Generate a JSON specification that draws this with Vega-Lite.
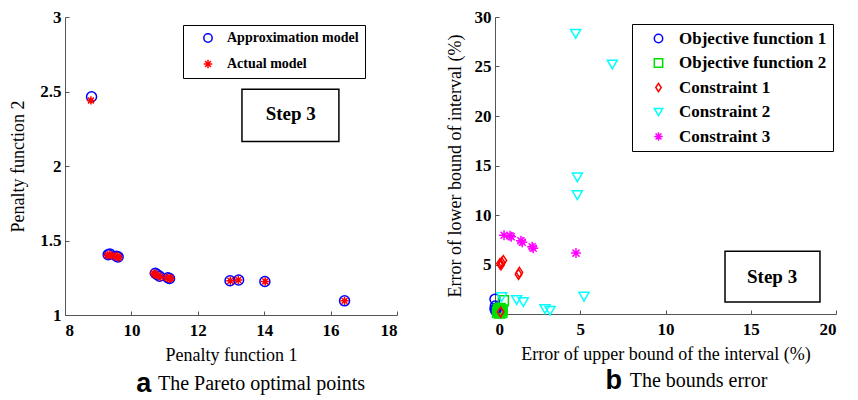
{
  "$schema": "https://vega.github.io/schema/vega-lite/v6.json",
  "background": "white",
  "padding": {"left": 9, "top": 8, "right": 5, "bottom": 5},
  "bounds": "flush",
  "spacing": 98,
  "config": {
    "view": {"stroke": null},
    "font": "Liberation Serif, Times New Roman, Times, DejaVu Serif, serif",
    "axis": {
      "grid": false,
      "domainColor": "#555555",
      "domainWidth": 1,
      "tickColor": "#555555",
      "tickSize": -4,
      "labelFont": "Liberation Serif, Times New Roman, Times, DejaVu Serif, serif",
      "labelFontWeight": "bold",
      "labelFontSize": 17,
      "labelColor": "black",
      "titleFont": "Liberation Serif, Times New Roman, Times, DejaVu Serif, serif",
      "titleFontWeight": "normal",
      "titleFontSize": 18,
      "titleColor": "black"
    },
    "legend": {
      "orient": "none",
      "title": null,
      "strokeColor": "black",
      "fillColor": "white",
      "padding": 6,
      "symbolOffset": 12,
      "labelOffset": 12,
      "rowPadding": 6.5,
      "labelFont": "Liberation Serif, Times New Roman, Times, DejaVu Serif, serif",
      "labelFontWeight": "bold",
      "labelFontSize": 17,
      "labelColor": "black",
      "symbolSize": 70,
      "symbolStrokeWidth": 1.5,
      "symbolFillColor": "transparent"
    }
  },
  "datasets": {
    "pareto": [
      {"series": "Approximation model", "f1": 8.80, "f2": 2.465},
      {"series": "Approximation model", "f1": 9.30, "f2": 1.405},
      {"series": "Approximation model", "f1": 9.35, "f2": 1.41},
      {"series": "Approximation model", "f1": 9.55, "f2": 1.395},
      {"series": "Approximation model", "f1": 9.60, "f2": 1.39},
      {"series": "Approximation model", "f1": 10.72, "f2": 1.28},
      {"series": "Approximation model", "f1": 10.78, "f2": 1.27},
      {"series": "Approximation model", "f1": 10.85, "f2": 1.26},
      {"series": "Approximation model", "f1": 11.10, "f2": 1.25},
      {"series": "Approximation model", "f1": 11.15, "f2": 1.245},
      {"series": "Approximation model", "f1": 12.97, "f2": 1.23},
      {"series": "Approximation model", "f1": 13.23, "f2": 1.235},
      {"series": "Approximation model", "f1": 14.02, "f2": 1.225},
      {"series": "Approximation model", "f1": 16.42, "f2": 1.095},
      {"series": "Actual model", "f1": 8.78, "f2": 2.44},
      {"series": "Actual model", "f1": 9.28, "f2": 1.40},
      {"series": "Actual model", "f1": 9.34, "f2": 1.405},
      {"series": "Actual model", "f1": 9.40, "f2": 1.40},
      {"series": "Actual model", "f1": 9.53, "f2": 1.39},
      {"series": "Actual model", "f1": 9.58, "f2": 1.395},
      {"series": "Actual model", "f1": 9.62, "f2": 1.385},
      {"series": "Actual model", "f1": 10.68, "f2": 1.28},
      {"series": "Actual model", "f1": 10.72, "f2": 1.27},
      {"series": "Actual model", "f1": 10.80, "f2": 1.265},
      {"series": "Actual model", "f1": 10.87, "f2": 1.255},
      {"series": "Actual model", "f1": 11.08, "f2": 1.25},
      {"series": "Actual model", "f1": 11.14, "f2": 1.243},
      {"series": "Actual model", "f1": 11.18, "f2": 1.247},
      {"series": "Actual model", "f1": 12.98, "f2": 1.23},
      {"series": "Actual model", "f1": 13.22, "f2": 1.235},
      {"series": "Actual model", "f1": 14.03, "f2": 1.225},
      {"series": "Actual model", "f1": 16.42, "f2": 1.095}
    ],
    "errors": [
      {"series": "Objective function 1", "eu": 0.0, "el": 1.5},
      {"series": "Objective function 1", "eu": 0.0, "el": 0.5},
      {"series": "Objective function 1", "eu": 0.05, "el": 0.3},
      {"series": "Objective function 1", "eu": 0.1, "el": 0.6},
      {"series": "Objective function 1", "eu": 0.02, "el": 0.8},
      {"series": "Objective function 2", "eu": 0.49, "el": 1.34},
      {"series": "Objective function 2", "eu": 0.15, "el": 0.15},
      {"series": "Objective function 2", "eu": 0.25, "el": 0.25},
      {"series": "Objective function 2", "eu": 0.35, "el": 0.35},
      {"series": "Objective function 2", "eu": 0.2, "el": 0.45},
      {"series": "Objective function 2", "eu": 0.4, "el": 0.15},
      {"series": "Objective function 2", "eu": 0.3, "el": 0.55},
      {"series": "Objective function 2", "eu": 0.28, "el": 0.1},
      {"series": "Objective function 2", "eu": 0.42, "el": 0.4},
      {"series": "Constraint 1", "eu": 0.29, "el": 5.1},
      {"series": "Constraint 1", "eu": 0.39, "el": 5.2},
      {"series": "Constraint 1", "eu": 0.49, "el": 5.4},
      {"series": "Constraint 1", "eu": 0.35, "el": 4.95},
      {"series": "Constraint 1", "eu": 1.38, "el": 4.0},
      {"series": "Constraint 1", "eu": 1.43, "el": 4.2},
      {"series": "Constraint 1", "eu": 0.33, "el": 0.2},
      {"series": "Constraint 2", "eu": 4.73, "el": 28.3},
      {"series": "Constraint 2", "eu": 6.88, "el": 25.2},
      {"series": "Constraint 2", "eu": 4.83, "el": 13.8},
      {"series": "Constraint 2", "eu": 4.83, "el": 12.0},
      {"series": "Constraint 2", "eu": 5.22, "el": 1.75},
      {"series": "Constraint 2", "eu": 0.39, "el": 1.7},
      {"series": "Constraint 2", "eu": 1.27, "el": 1.4},
      {"series": "Constraint 2", "eu": 1.66, "el": 1.2},
      {"series": "Constraint 2", "eu": 2.93, "el": 0.5},
      {"series": "Constraint 2", "eu": 3.23, "el": 0.33},
      {"series": "Constraint 3", "eu": 0.53, "el": 7.95},
      {"series": "Constraint 3", "eu": 0.88, "el": 7.9},
      {"series": "Constraint 3", "eu": 0.95, "el": 7.8},
      {"series": "Constraint 3", "eu": 1.52, "el": 7.4},
      {"series": "Constraint 3", "eu": 1.6, "el": 7.25},
      {"series": "Constraint 3", "eu": 2.18, "el": 6.8},
      {"series": "Constraint 3", "eu": 2.24, "el": 6.65},
      {"series": "Constraint 3", "eu": 4.75, "el": 6.15}
    ]
  },
  "resolve": {"scale": {"color": "independent", "shape": "independent"}, "legend": {"color": "independent", "shape": "independent"}},
  "hconcat": [
    {
      "width": 332,
      "height": 298,
      "layer": [
        {
          "data": {"values": [{"x1": 13.33, "x2": 16.25, "y1": 2.165, "y2": 2.515}]},
          "mark": {"type": "rect", "fill": "white", "stroke": "black", "strokeWidth": 1.5},
          "encoding": {
            "x": {"field": "x1", "type": "quantitative", "scale": {"domain": [8, 18], "nice": false, "zero": false}},
            "x2": {"field": "x2"},
            "y": {"field": "y1", "type": "quantitative", "scale": {"domain": [1, 3], "nice": false, "zero": false}},
            "y2": {"field": "y2"}
          }
        },
        {
          "data": {"values": [{"tx": 14.8, "ty": 2.35, "label": "Step 3"}]},
          "mark": {"type": "text", "font": "Liberation Serif, Times New Roman, Times, DejaVu Serif, serif", "fontWeight": "bold", "fontSize": 19, "color": "black"},
          "encoding": {
            "x": {"field": "tx", "type": "quantitative"},
            "y": {"field": "ty", "type": "quantitative"},
            "text": {"field": "label"}
          }
        },
        {
          "data": {"name": "pareto"},
          "mark": {"type": "point", "filled": false, "strokeWidth": 1.5, "opacity": 1},
          "encoding": {
            "x": {"field": "f1", "type": "quantitative", "title": "Penalty function 1",
                  "axis": {"values": [8, 10, 12, 14, 16, 18], "labelPadding": 11, "titlePadding": 8}},
            "y": {"field": "f2", "type": "quantitative", "title": "Penalty function 2",
                  "axis": {"values": [1, 1.5, 2, 2.5, 3], "format": "~g", "labelPadding": 8, "titlePadding": 12}},
            "color": {"field": "series", "type": "nominal", "sort": null,
                      "scale": {"domain": ["Approximation model", "Actual model"], "range": ["#0000ff", "#ff0000"]},
                      "legend": {"legendX": 118, "legendY": 8, "labelFontSize": 14, "rowPadding": 10}},
            "shape": {"field": "series", "type": "nominal", "sort": null,
                      "scale": {"domain": ["Approximation model", "Actual model"], "range": ["circle", "M-1,0L1,0M0,-1L0,1M-0.7,-0.7L0.7,0.7M-0.7,0.7L0.7,-0.7"]},
                      "legend": {"legendX": 118, "legendY": 8, "labelFontSize": 14, "rowPadding": 10}},
            "size": {"condition": {"test": "datum.series === 'Approximation model'", "value": 100}, "value": 70}
          }
        },
        {
          "data": {"values": [{"tx": 10.6, "ty": 0.535, "label": "a"}]},
          "mark": {"type": "text", "font": "Liberation Sans, Arial, sans-serif", "fontWeight": "bold", "fontSize": 27, "align": "right", "baseline": "middle", "color": "black"},
          "encoding": {
            "x": {"field": "tx", "type": "quantitative"},
            "y": {"field": "ty", "type": "quantitative"},
            "text": {"field": "label"}
          }
        },
        {
          "data": {"values": [{"tx": 10.8, "ty": 0.535, "label": "The Pareto optimal points"}]},
          "mark": {"type": "text", "font": "Liberation Serif, Times New Roman, Times, DejaVu Serif, serif", "fontSize": 20, "align": "left", "baseline": "middle", "color": "black"},
          "encoding": {
            "x": {"field": "tx", "type": "quantitative"},
            "y": {"field": "ty", "type": "quantitative"},
            "text": {"field": "label"}
          }
        }
      ]
    },
    {
      "width": 341,
      "height": 297,
      "layer": [
        {
          "data": {"values": [{"x1": 13.49, "x2": 19.06, "y1": 1.21, "y2": 6.34}]},
          "mark": {"type": "rect", "fill": "white", "stroke": "black", "strokeWidth": 1.5},
          "encoding": {
            "x": {"field": "x1", "type": "quantitative", "scale": {"domain": [0, 20], "nice": false}},
            "x2": {"field": "x2"},
            "y": {"field": "y1", "type": "quantitative", "scale": {"domain": [0, 30], "nice": false}},
            "y2": {"field": "y2"}
          }
        },
        {
          "data": {"values": [{"tx": 16.25, "ty": 3.7, "label": "Step 3"}]},
          "mark": {"type": "text", "font": "Liberation Serif, Times New Roman, Times, DejaVu Serif, serif", "fontWeight": "bold", "fontSize": 19, "color": "black"},
          "encoding": {
            "x": {"field": "tx", "type": "quantitative"},
            "y": {"field": "ty", "type": "quantitative"},
            "text": {"field": "label"}
          }
        },
        {
          "data": {"name": "errors"},
          "mark": {"type": "point", "filled": false, "strokeWidth": 1.5, "opacity": 1},
          "encoding": {
            "x": {"field": "eu", "type": "quantitative", "title": "Error of upper bound of the interval (%)",
                  "axis": {"values": [0, 5, 10, 15, 20], "labelPadding": 11, "titlePadding": 8}},
            "y": {"field": "el", "type": "quantitative", "title": "Error of lower bound of interval (%)",
                  "axis": {"values": [5, 10, 15, 20, 25, 30], "labelPadding": 8, "titlePadding": 10}},
            "color": {"field": "series", "type": "nominal", "sort": null,
                      "scale": {"domain": ["Objective function 1", "Objective function 2", "Constraint 1", "Constraint 2", "Constraint 3"],
                                "range": ["#0000ff", "#00e000", "#ff0000", "#00ffff", "#ff00ff"]},
                      "legend": {"legendX": 137, "legendY": 7}},
            "shape": {"field": "series", "type": "nominal", "sort": null,
                      "scale": {"domain": ["Objective function 1", "Objective function 2", "Constraint 1", "Constraint 2", "Constraint 3"],
                                "range": ["circle", "square", "M0,-1L0.65,0L0,1L-0.65,0Z", "triangle-down", "M-1,0L1,0M0,-1L0,1M-0.7,-0.7L0.7,0.7M-0.7,0.7L0.7,-0.7"]},
                      "legend": {"legendX": 137, "legendY": 7}},
            "size": {"value": 100}
          }
        },
        {
          "data": {"values": [{"tx": 7.45, "ty": -6.75, "label": "b"}]},
          "mark": {"type": "text", "font": "Liberation Sans, Arial, sans-serif", "fontWeight": "bold", "fontSize": 27, "align": "right", "baseline": "middle", "color": "black"},
          "encoding": {
            "x": {"field": "tx", "type": "quantitative"},
            "y": {"field": "ty", "type": "quantitative"},
            "text": {"field": "label"}
          }
        },
        {
          "data": {"values": [{"tx": 7.9, "ty": -6.75, "label": "The bounds error"}]},
          "mark": {"type": "text", "font": "Liberation Serif, Times New Roman, Times, DejaVu Serif, serif", "fontSize": 20, "align": "left", "baseline": "middle", "color": "black"},
          "encoding": {
            "x": {"field": "tx", "type": "quantitative"},
            "y": {"field": "ty", "type": "quantitative"},
            "text": {"field": "label"}
          }
        }
      ]
    }
  ]
}
